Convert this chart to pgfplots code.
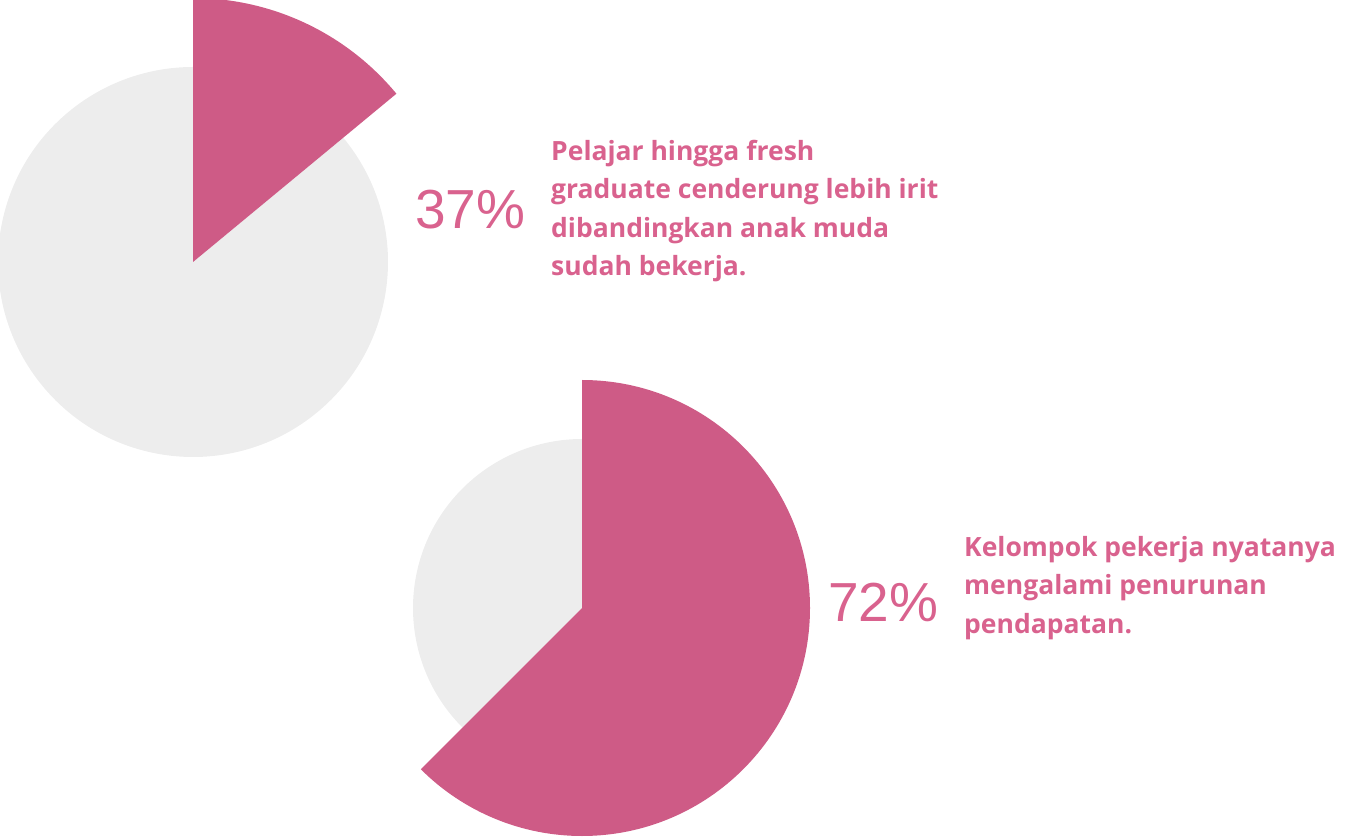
\documentclass[border=0pt]{standalone}
\usepackage{pgfplots}
\pgfplotsset{compat=1.18}
\usepackage{fontspec}
\setmainfont{Open Sans}
\newfontfamily\numfont{Liberation Sans}
\definecolor{piepink}{HTML}{CE5B86}
\definecolor{piegray}{HTML}{EDEDED}
\definecolor{txtpink}{HTML}{D9628E}
% pie data: center x, center y (image px, y up), grey radius, pink radius, pink share (%)
\def\Ax{193}\def\Ay{576}\def\Ar{195}\def\AR{264}\def\Ashare{14}
\def\Bx{582}\def\By{230}\def\Br{169}\def\BR{228}\def\Bshare{62.5}
\begin{document}
\begin{tikzpicture}
\begin{axis}[
  scale only axis, width=1364pt, height=838pt,
  xmin=0, xmax=1364, ymin=0, ymax=838,
  hide axis, clip=false]
% pie 1
\pgfmathsetmacro{\Aend}{90-3.6*\Ashare}
\fill[piegray] (axis cs:\Ax,\Ay) -- ++(\Aend:\Ar) arc[start angle=\Aend, end angle=-270, radius=\Ar] -- cycle;
\fill[piepink] (axis cs:\Ax,\Ay) -- ++(90:\AR) arc[start angle=90, end angle=\Aend, radius=\AR] -- cycle;
% pie 2
\pgfmathsetmacro{\Bend}{90-3.6*\Bshare}
\fill[piegray] (axis cs:\Bx,\By) -- ++(\Bend:\Br) arc[start angle=\Bend, end angle=-270, radius=\Br] -- cycle;
\fill[piepink] (axis cs:\Bx,\By) -- ++(90:\BR) arc[start angle=90, end angle=\Bend, radius=\BR] -- cycle;
% labels
\node[anchor=base west, inner sep=0pt, text=txtpink] at (axis cs:415,609)
  {\numfont\fontsize{55}{55}\selectfont 37\%};
\node[anchor=base west, inner sep=0pt, text=txtpink] at (axis cs:828,216)
  {\numfont\fontsize{55}{55}\selectfont 72\%};
\node[anchor=north west, inner sep=0pt, text=txtpink, align=left,
  font=\fontsize{26.5}{38.5}\selectfont\bfseries] at (axis cs:551,698)
  {Pelajar hingga fresh\\graduate cenderung lebih irit\\dibandingkan anak muda\\sudah bekerja.};
\node[anchor=north west, inner sep=0pt, text=txtpink, align=left,
  font=\fontsize{26.5}{38.5}\selectfont\bfseries] at (axis cs:964,302)
  {Kelompok pekerja nyatanya\\mengalami penurunan\\pendapatan.};
\end{axis}
\pgfresetboundingbox
\path (current axis.south west) rectangle (current axis.north east);
\end{tikzpicture}
\end{document}
